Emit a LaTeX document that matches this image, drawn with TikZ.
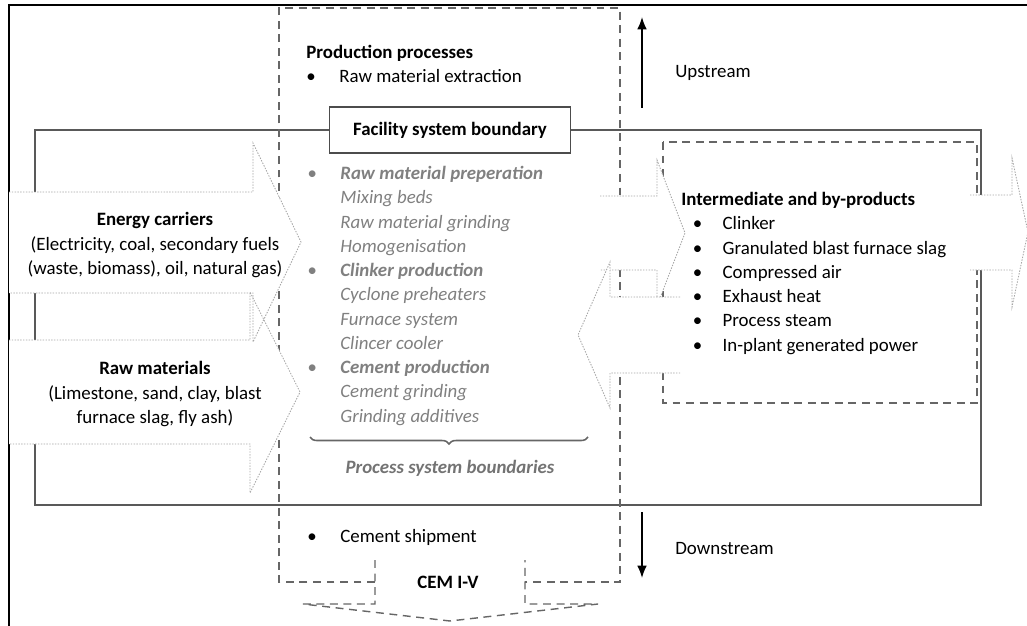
\documentclass[tikz,border=0pt]{standalone}
\usepackage{fontspec}
\setmainfont{Carlito}
\usetikzlibrary{arrows.meta,decorations.pathreplacing}

\newcommand{\bitem}{\makebox[18.8pt][l]{\textbullet}}
\newcommand{\nitem}{\hspace*{18.8pt}}
\newcommand{\ibitem}{\hspace*{6.5pt}\makebox[17pt][l]{\textbullet}}

\begin{document}
\begin{tikzpicture}[
        x=0.02cm, y=-0.02cm,
        font=\fontsize{10.75}{13.8}\selectfont
    ]
    \tikzset{
        frameline/.style = {draw=black, line width=1.1pt},
        facline/.style = {draw=black!65, line width=1.1pt},
        boxdash/.style = {draw=black!60, line width=0.8pt, dash pattern=on 4.5pt off 3.2pt},
        blockarrow/.style = {draw=black!35, line width=0.5pt, dash pattern=on 0.8pt off 0.8pt},
        flowarrow/.style = {-{Latex[length=7pt,width=5.5pt]}, line width=0.9pt},
        txt/.style = {inner sep=0pt, align=left, anchor=base west},
        ctxt/.style = {inner sep=0pt, align=center},
        greytxt/.style = {txt, text=black!50, font=\itshape\fontsize{10.75}{13.8}\selectfont},
        facbox/.style = {draw=black!70, line width=1.1pt, fill=white, minimum width=4.82cm,
            minimum height=0.92cm, font=\bfseries\fontsize{10.75}{13.8}\selectfont},
    }
    \useasboundingbox (0,0) rectangle (1027,625);
    \clip (0,0) rectangle (1027,625);
    %
    \draw[frameline] (9,5) rectangle (1040,640);
    % facility system boundary
    \node[facbox] (fac) at (450,130) {Facility system boundary};
    \draw[facline] (fac.west) -| (35,505) -| (981,130) -- (fac.east);
    % production processes and cement output
    \draw[boxdash] (375,582) -- (279,582) -- (279,8) -- (620,8) -- (620,582) -- (525,582);
    \draw[boxdash] (375,560) -- (375,604) -- (303,604) -- (450,621) -- (598,604) -- (525,604) -- (525,560);
    % intermediate and by-products
    \draw[boxdash] (663,142) rectangle (977,403);
    %
    \fill[white] (9,192) -- (253,192) -- (253,143) -- (301,242) -- (253,342) -- (253,293) -- (9,293) -- cycle;
    \fill[white] (9,340) -- (250,340) -- (250,292) -- (300,392) -- (250,493) -- (250,444) -- (9,444) -- cycle;
    \draw[blockarrow] (9,192) -- (253,192) -- (253,143) -- (301,242) -- (253,342) -- (253,293) -- (9,293);
    \draw[blockarrow] (9,340) -- (250,340) -- (250,292) -- (300,392) -- (250,493) -- (250,444) -- (9,444);
    %
    \fill[white] (600,196) -- (657,196) -- (657,160) -- (685,233) -- (657,306) -- (657,270) -- (600,270) -- cycle;
    \draw[blockarrow] (600,196) -- (657,196) -- (657,160) -- (685,233) -- (657,306) -- (657,270) -- (600,270);
    \fill[white] (680,297) -- (610,297) -- (610,262) -- (578,335) -- (610,408) -- (610,373) -- (680,373) -- cycle;
    \draw[blockarrow] (680,297) -- (610,297) -- (610,262) -- (578,335) -- (610,408) -- (610,373) -- (680,373);
    \fill[white] (970,195) -- (1012,195) -- (1012,158) -- (1028,232) -- (1012,307) -- (1012,270) -- (970,270) -- cycle;
    \draw[blockarrow] (970,195) -- (1012,195) -- (1012,158) -- (1028,232) -- (1012,307) -- (1012,270) -- (970,270);
    %
    \node[txt] (prod) at (306,83) {\textbf{Production processes}\\\bitem Raw material extraction};
    \node[greytxt] (proc) at (307,422) {\bitem\textbf{Raw material preperation}\\
        \nitem Mixing beds\\ \nitem Raw material grinding\\ \nitem Homogenisation\\
        \bitem\textbf{Clinker production}\\ \nitem Cyclone preheaters\\ \nitem Furnace system\\
        \nitem Clincer cooler\\ \bitem\textbf{Cement production}\\ \nitem Cement grinding\\
        \nitem Grinding additives};
    \coordinate (br0) at (310,437);
    \coordinate (br1) at (588,437);
    \draw[black!60, line width=0.9pt, decorate, decoration={brace, mirror, amplitude=4pt}] (br0) -- (br1);
    \node[ctxt, text=black!55, font=\bfseries\itshape\fontsize{10.75}{13.8}\selectfont] (psb) at (450,468) {Process system boundaries};
    \node[txt] (ship) at (307,542) {\bitem Cement shipment};
    \node[ctxt, font=\bfseries\fontsize{10.75}{13.8}\selectfont] (cem) at (448,582) {CEM I-V};
    %
    \node[ctxt] (energy) at (155,245) {\textbf{Energy carriers}\\(Electricity, coal, secondary fuels\\(waste, biomass), oil, natural gas)};
    \node[ctxt] (raw) at (155,394) {\textbf{Raw materials}\\(Limestone, sand, clay, blast\\furnace slag, fly ash)};
    \node[txt] (inter) at (681,351) {\textbf{Intermediate and by-products}\\ \ibitem Clinker\\
        \ibitem Granulated blast furnace slag\\ \ibitem Compressed air\\ \ibitem Exhaust heat\\
        \ibitem Process steam\\ \ibitem In-plant generated power};
    %
    \coordinate (up0) at (642,108);
    \coordinate (up1) at (642,17);
    \coordinate (dn0) at (642,512);
    \coordinate (dn1) at (642,578);
    \draw[flowarrow] (up0) -- (up1);
    \draw[flowarrow] (dn0) -- (dn1);
    \node[txt] (ups) at (675,78) {Upstream};
    \node[txt] (dns) at (675,554) {Downstream};
\end{tikzpicture}
\end{document}
